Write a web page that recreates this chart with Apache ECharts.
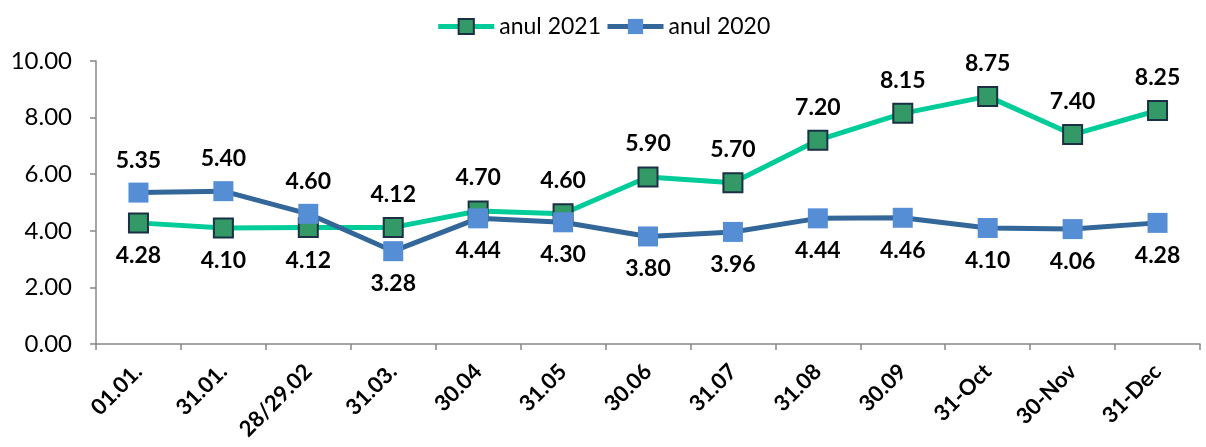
<!DOCTYPE html>
<html>
<head>
<meta charset="utf-8">
<script src="https://cdn.jsdelivr.net/npm/echarts@6/dist/echarts.min.js"></script>
<style>
  html, body { margin: 0; padding: 0; background: #fff; }
  #chart { width: 1206px; height: 447px; }
</style>
</head>
<body>
<div id="chart"></div>
<script>
var categories = ["01.01.", "31.01.", "28/29.02", "31.03.", "30.04", "31.05", "30.06", "31.07", "31.08", "30.09", "31-Oct", "30-Nov", "31-Dec"];
var values2021 = [4.28, 4.10, 4.12, 4.12, 4.70, 4.60, 5.90, 5.70, 7.20, 8.15, 8.75, 7.40, 8.25];
var values2020 = [5.35, 5.40, 4.60, 3.28, 4.44, 4.30, 3.80, 3.96, 4.44, 4.46, 4.10, 4.06, 4.28];

var font = "Lato, 'Open Sans', sans-serif";

// higher point gets its label above, lower one below
function withLabels(vals, other) {
  return vals.map(function (v, i) {
    return {
      value: v,
      label: { position: v >= other[i] ? "top" : "bottom" }
    };
  });
}

var labelStyle = {
  show: true,
  distance: 11,
  fontSize: 23,
  fontWeight: "bold",
  color: "#000",
  fontFamily: font,
  formatter: function (p) { return p.value.toFixed(2); }
};

var myChart = echarts.init(document.getElementById("chart"));
var option = {
  animation: false,
  legend: {
    top: 10,
    left: "center",
    itemWidth: 56,
    itemHeight: 19,
    itemGap: 4,
    lineStyle: { width: 5 },
    textStyle: { fontSize: 23, color: "#000", fontFamily: font },
    data: ["anul 2021", "anul 2020"]
  },
  grid: { left: 96, right: 6, top: 61, bottom: 103 },
  xAxis: {
    type: "category",
    data: categories,
    boundaryGap: true,
    axisLine: { lineStyle: { color: "#888", width: 1.5 } },
    axisTick: { show: true, length: 6, lineStyle: { color: "#888", width: 1.5 } },
    axisLabel: {
      rotate: 45,
      interval: 0,
      margin: 24,
      fontSize: 22,
      fontWeight: "bold",
      color: "#000",
      fontFamily: font
    }
  },
  yAxis: {
    type: "value",
    min: 0,
    max: 10,
    interval: 2,
    axisLine: { show: true, lineStyle: { color: "#888", width: 1.5 } },
    axisTick: { show: true, length: 6, lineStyle: { color: "#888", width: 1.5 } },
    splitLine: { show: false },
    axisLabel: {
      fontSize: 24,
      color: "#000",
      margin: 24,
      fontFamily: font,
      formatter: function (v) { return v.toFixed(2); }
    }
  },
  series: [
    {
      name: "anul 2021",
      type: "line",
      data: withLabels(values2021, values2020),
      symbol: "rect",
      symbolSize: 19,
      lineStyle: { color: "#00CC99", width: 5 },
      itemStyle: { color: "#339966", borderColor: "#1B2F45", borderWidth: 2 },
      label: labelStyle,
      z: 2
    },
    {
      name: "anul 2020",
      type: "line",
      data: withLabels(values2020, values2021),
      symbol: "rect",
      symbolSize: 20,
      lineStyle: { color: "#336699", width: 5 },
      itemStyle: { color: "#558ED5", borderWidth: 0 },
      label: labelStyle,
      z: 3
    }
  ]
};
myChart.setOption(option);
</script>
</body>
</html>
